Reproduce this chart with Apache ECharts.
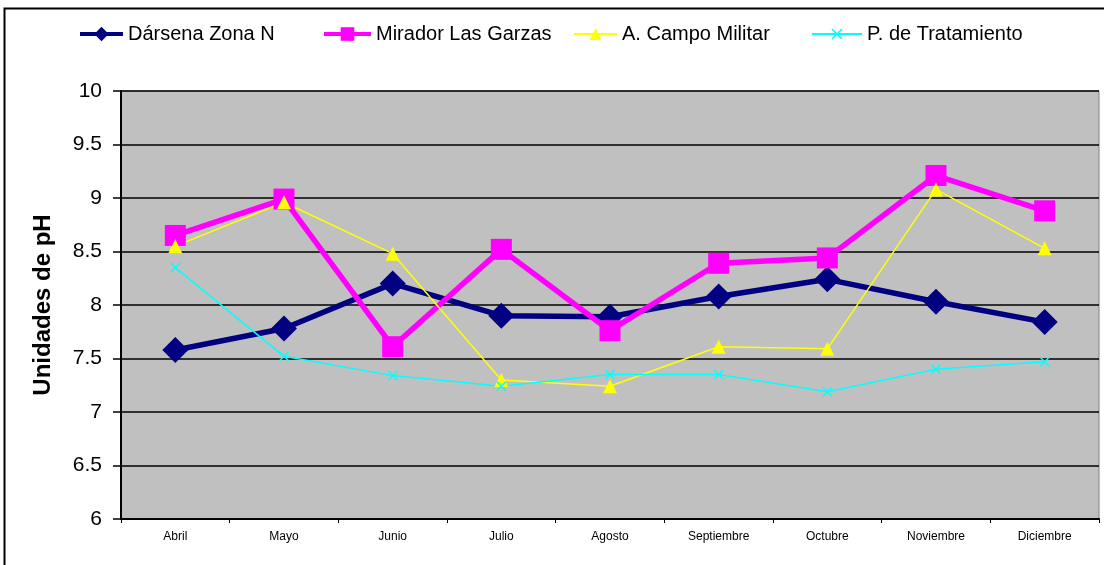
<!DOCTYPE html>
<html>
<head>
<meta charset="utf-8">
<script src="https://cdn.jsdelivr.net/npm/echarts@6/dist/echarts.min.js"></script>
<style>
    html, body { margin: 0; padding: 0; background: #fff; }
    #chart { width: 1104px; height: 565px; }
</style>
</head>
<body>
<div id="chart"></div>
<script>
// values
var months = ['Abril', 'Mayo', 'Junio', 'Julio', 'Agosto', 'Septiembre', 'Octubre', 'Noviembre', 'Diciembre'];
var darsena = [7.58, 7.78, 8.20, 7.90, 7.89, 8.08, 8.24, 8.03, 7.84];
var mirador = [8.65, 8.99, 7.61, 8.52, 7.76, 8.39, 8.44, 9.21, 8.88];
var campo = [8.55, 8.96, 8.48, 7.30, 7.24, 7.61, 7.59, 9.08, 8.53];
var tratamiento = [8.35, 7.52, 7.34, 7.24, 7.35, 7.35, 7.19, 7.40, 7.47];
var yTicks = { min: 6, max: 10, step: 0.5 };

var names = ['Dársena Zona N', 'Mirador Las Garzas', 'A. Campo Militar', 'P. de Tratamiento'];
var colors = ['#000080', '#FF00FF', '#FFFF00', '#00FFFF'];
var font = 'Liberation Sans, Arial, sans-serif';
var cross = 'path://M0,1L1,0L5,4L9,0L10,1L6,5L10,9L9,10L5,6L1,10L0,9L4,5Z';

var chart = echarts.init(document.getElementById('chart'));

function legendFor(idx, left, width, lineWidth, iconHeight) {
    return {
        data: [names[idx]],
        left: left,
        top: 19,
        itemWidth: width,
        itemHeight: iconHeight,
        itemGap: 6,
        selectedMode: false,
        lineStyle: { width: lineWidth },
        textStyle: { fontSize: 20, color: '#000', fontFamily: font }
    };
}

var option = {
    animation: false,
    backgroundColor: '#fff',
    textStyle: { fontFamily: font },
    graphic: [{
        type: 'rect',
        shape: { x: 4.5, y: 8.5, width: 1200, height: 700 },
        style: { fill: null, stroke: '#000', lineWidth: 2 },
        silent: true
    }],
    legend: [
        legendFor(0, 73, 43, 4, 18),
        legendFor(1, 317, 47, 4, 17),
        legendFor(2, 568, 43, 2, 15),
        legendFor(3, 806, 50, 2, 14)
    ],
    grid: {
        left: 121,
        right: 5,
        top: 91,
        bottom: 46,
        show: true,
        backgroundColor: '#C0C0C0',
        borderColor: '#808080',
        borderWidth: 1
    },
    xAxis: {
        type: 'category',
        data: months,
        boundaryGap: true,
        axisLine: { lineStyle: { color: '#000', width: 2 } },
        axisTick: { show: true, interval: 0, length: 4, lineStyle: { color: '#000', width: 1 } },
        axisLabel: { interval: 0, fontSize: 12, color: '#000', margin: 12, fontFamily: font },
        splitLine: { show: false }
    },
    yAxis: {
        type: 'value',
        min: yTicks.min,
        max: yTicks.max,
        interval: yTicks.step,
        name: 'Unidades de pH',
        nameLocation: 'middle',
        nameRotate: 90,
        nameGap: 66,
        nameTextStyle: { fontSize: 24, fontWeight: 'bold', color: '#000', fontFamily: font },
        axisLine: { show: true, lineStyle: { color: '#000', width: 2 } },
        axisTick: { show: true, length: 8, lineStyle: { color: '#000', width: 1.5 } },
        axisLabel: { fontSize: 21, color: '#000', margin: 19, fontFamily: font },
        splitLine: { show: true, lineStyle: { color: '#000', width: 1.5 } }
    },
    series: [
        {
            name: names[0],
            type: 'line',
            data: darsena,
            symbol: 'diamond',
            symbolSize: [26, 26],
            lineStyle: { color: colors[0], width: 5.5 },
            itemStyle: { color: colors[0] }
        },
        {
            name: names[1],
            type: 'line',
            data: mirador,
            symbol: 'rect',
            symbolSize: 21,
            lineStyle: { color: colors[1], width: 5.5 },
            itemStyle: { color: colors[1] }
        },
        {
            name: names[2],
            type: 'line',
            data: campo,
            symbol: 'triangle',
            symbolSize: 14,
            lineStyle: { color: colors[2], width: 1.5 },
            itemStyle: { color: colors[2] }
        },
        {
            name: names[3],
            type: 'line',
            data: tratamiento,
            symbol: cross,
            symbolSize: 10,
            lineStyle: { color: colors[3], width: 1.5 },
            itemStyle: { color: colors[3] }
        }
    ]
};

chart.setOption(option);
</script>
</body>
</html>
